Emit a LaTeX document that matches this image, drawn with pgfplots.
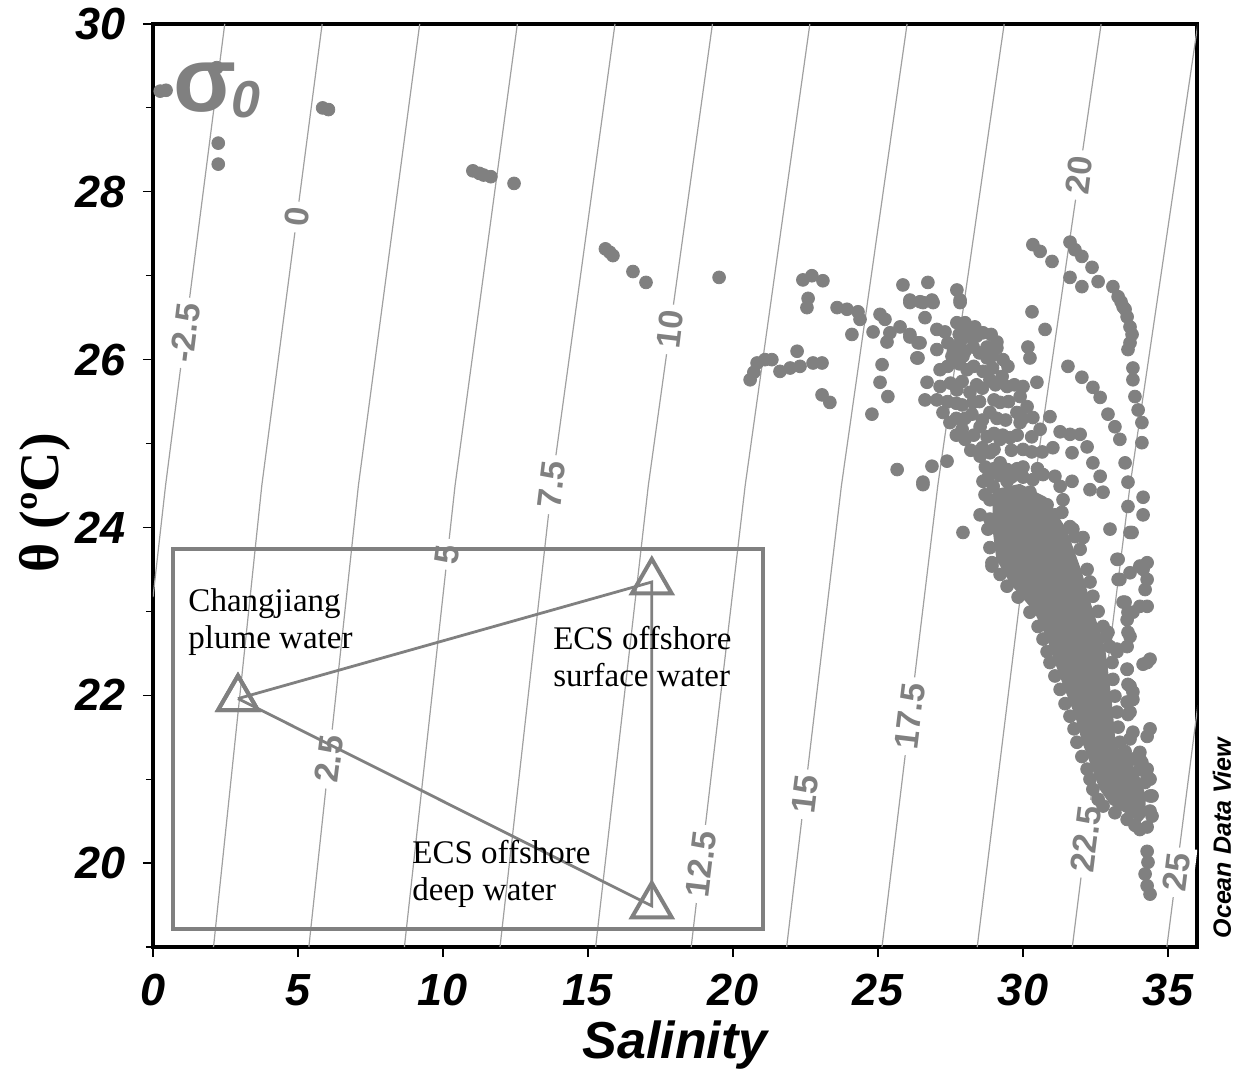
\documentclass[border=0pt]{standalone}
\usepackage{fontspec}
\setmainfont{Liberation Serif}
\setsansfont{Liberation Sans}
\usepackage{pgfplots}
\pgfplotsset{compat=1.18}
\definecolor{dotgray}{HTML}{808080}
\definecolor{linegray}{HTML}{A0A0A0}
\begin{document}
\begin{tikzpicture}
\path[use as bounding box] (-76.5pt,-61.5pt) rectangle (541pt,473.5pt);
\begin{axis}[
  width=522pt, height=461.5pt, scale only axis,
  xmin=0, xmax=36, ymin=19, ymax=30,
  xtick={0,5,...,35}, ytick={20,22,...,30}, minor ytick={19,21,...,29},
  tick pos=left, tick align=outside,
  major tick length=5pt, minor tick length=3.5pt,
  axis line style={line width=2pt},
  tick style={black, line width=0.6pt},
  /pgf/number format/assume math mode=true,
  tick label style={font=\sffamily\bfseries\itshape\fontsize{22.5}{22.5}\selectfont},
  xticklabel style={yshift=-5pt},
  yticklabel style={xshift=-5pt},
  xlabel={Salinity},
  xlabel style={font=\sffamily\bfseries\itshape\fontsize{26}{26}\selectfont, at={(axis description cs:0.5,-0.106)}, anchor=center},
  ylabel={θ (ºC)},
  ylabel style={font=\rmfamily\bfseries\fontsize{28}{28}\selectfont, at={(axis description cs:-0.1034,0.481)}, anchor=center},
]
% isopycnals
\pgfplotsset{iso/.style={linegray, line width=0.6pt, forget plot}}
\addplot[iso] coordinates {(0,23.17)(0.433,24.5)(2.474,30)};
\addplot[iso] coordinates {(2.087,19)(3.752,24.5)(5.833,30)};
\addplot[iso] coordinates {(5.374,19)(7.083,24.5)(9.197,30)};
\addplot[iso] coordinates {(8.669,19)(10.416,24.5)(12.564,30)};
\addplot[iso] coordinates {(11.966,19)(13.751,24.5)(15.93,30)};
\addplot[iso] coordinates {(15.263,19)(17.08,24.5)(19.291,30)};
\addplot[iso] coordinates {(18.558,19)(20.42,24.5)(22.65,30)};
\addplot[iso] coordinates {(21.85,19)(23.739,24.5)(26.002,30)};
\addplot[iso] coordinates {(25.138,19)(27.062,24.5)(29.35,30)};
\addplot[iso] coordinates {(28.421,19)(30.378,24.5)(32.694,30)};
\addplot[iso] coordinates {(31.70,19)(33.69,24.5)(36.03,30)};
\addplot[iso] coordinates {(34.96,19)(37.0,24.5)};
% contour labels
\tikzset{clab/.style={fill=white, text=dotgray, inner sep=3pt, rotate=83, font=\sffamily\bfseries\fontsize{17}{17}\selectfont}}
\node[clab] at (axis cs:1.11,26.32) {-2.5};
\node[clab] at (axis cs:4.96,27.7) {0};
\node[clab] at (axis cs:6.07,21.24) {2.5};
\node[clab] at (axis cs:10.16,23.68) {5};
\node[clab] at (axis cs:13.75,24.51) {7.5};
\node[clab] at (axis cs:17.83,26.36) {10};
\node[clab] at (axis cs:18.89,19.99) {12.5};
\node[clab] at (axis cs:22.48,20.82) {15};
\node[clab] at (axis cs:26.10,21.75) {17.5};
\node[clab] at (axis cs:31.94,28.2) {20};
\node[clab] at (axis cs:32.17,20.29) {22.5};
\node[clab] at (axis cs:35.29,19.89) {25};
% inset box
\addplot[dotgray, line width=2pt, forget plot] coordinates {(0.69,19.21)(21.03,19.21)(21.03,23.74)(0.69,23.74)} -- cycle;
% mixing triangle
\addplot[dotgray, line width=1.4pt, mark=triangle, mark size=11.5pt, mark options={line width=2pt, fill=none}, forget plot]
  coordinates {(2.93,21.96)(17.2,23.35)(17.2,19.49)(2.93,21.96)};
% dense core
\addplot[fill=dotgray, draw=none, forget plot] coordinates {
(28.95,24.45)(28.95,23.98)(29.08,23.62)(29.58,23.32)(30.38,23.0)(30.83,22.67)(31.12,22.37)(31.46,22.05)(31.81,21.74)(32.05,21.43)(32.39,21.12)(32.64,20.88)(33.0,20.70)(33.62,20.58)(34.03,20.48)
(34.21,20.55)(34.24,20.80)(33.97,21.08)(33.62,21.24)(33.20,21.40)(33.10,21.80)(32.97,22.19)(32.83,22.57)(32.60,22.81)(32.30,23.14)(32.02,23.48)(31.50,23.98)(30.80,24.36)(29.90,24.52)} -- cycle;
% scatter
\addplot[only marks, mark=*, mark size=3.2pt, color=dotgray, forget plot] coordinates {
(0.25,29.2)(0.45,29.21)(2.2,29.48)(2.25,28.58)(2.25,28.33)(5.85,29.0)(6.05,28.98)
(11.03,28.25)(11.25,28.22)(11.4,28.2)(11.65,28.18)(12.45,28.1)
(15.6,27.32)(15.75,27.28)(15.86,27.24)(16.55,27.05)(17.0,26.92)(19.52,26.98)
(20.59,25.76)(20.72,25.85)(20.83,25.96)(21.1,26.0)(21.34,26.0)(21.62,25.86)(21.97,25.9)(22.31,25.92)(22.76,25.96)(23.07,25.96)(22.21,26.10)
(22.41,26.95)(22.72,27.0)(23.1,26.94)(22.59,26.73)(22.55,26.62)(23.07,25.58)(23.34,25.49)
(23.59,26.62)(23.93,26.6)(24.31,26.57)(24.38,26.48)(24.1,26.3)(24.83,26.33)(25.07,26.54)(25.24,26.48)(25.31,26.21)(25.76,26.39)(25.86,26.89)(26.1,26.71)(26.45,26.69)(26.72,26.92)(26.86,26.71)(26.62,26.5)(26.1,26.27)(26.38,26.2)(26.38,26.02)(27.72,26.83)(27.83,26.71)
(25.14,25.94)(25.07,25.73)(25.34,25.56)(24.79,25.35)
(25.66,24.69)(26.55,24.51)(26.86,24.73)(27.38,24.79)(28.52,24.15)(27.93,23.94)(28.93,23.54)
(26.10,26.68)(26.55,26.68)(26.9,26.68)(27.83,26.68)(26.1,26.3)(26.45,26.2)(26.34,26.02)(25.41,26.32)
(27.03,26.36)(27.31,26.33)(27.72,26.44)(28.0,26.44)(28.34,26.39)(28.62,26.32)(28.17,26.27)(27.83,26.2)(28.28,26.15)(28.76,26.15)(29.1,26.21)(27.03,26.12)(27.41,26.2)(27.55,26.04)(27.93,26.04)(28.76,26.02)(29.1,26.14)(29.31,26.0)(29.48,25.92)(27.14,25.88)(28.07,25.88)(28.62,25.86)(28.86,25.76)(29.28,25.8)(29.45,25.68)(26.69,25.73)(27.14,25.68)(27.72,25.64)(28.17,25.61)(26.62,25.52)(27.03,25.52)(27.9,25.46)(28.28,25.49)(28.24,25.35)(28.86,25.37)(29.21,25.49)(29.9,25.56)(30.14,25.44)(29.79,25.37)(27.24,25.37)(27.48,25.25)(27.9,25.17)(28.0,25.05)(28.52,25.2)(28.76,25.08)(29.21,25.05)(29.55,25.07)(30.0,24.93)(29.9,25.25)(30.34,25.31)(30.59,25.17)(28.52,24.85)(28.86,24.89)(29.21,24.77)(29.45,24.69)(28.62,24.55)(28.97,24.49)(29.45,24.55)(29.31,24.33)(29.79,24.42)(30.24,24.42)(30.48,24.21)(30.83,24.01)(31.17,23.86)
(27.8,26.3)(28.1,26.32)(28.4,26.28)(28.9,26.3)(27.6,26.1)(28.0,26.1)(28.5,26.08)(28.95,26.05)(27.4,25.92)(27.8,25.95)(28.3,25.92)(28.95,25.9)(27.5,25.72)(27.9,25.74)(28.4,25.7)(28.6,25.66)(29.05,25.7)(29.7,25.7)(30.0,25.68)
(27.4,25.5)(27.7,25.48)(28.5,25.5)(29.0,25.52)(29.5,25.5)(27.7,25.3)(28.0,25.3)(28.6,25.28)(29.1,25.3)(29.4,25.28)(30.0,25.3)
(27.7,25.1)(28.3,25.1)(29.0,25.12)(29.3,25.1)(29.8,25.1)(30.3,25.08)(28.2,24.92)(28.6,24.95)(29.0,24.93)(29.6,24.92)(30.3,24.9)
(28.7,24.72)(29.0,24.7)(29.8,24.7)(30.0,24.72)(30.5,24.7)(28.8,24.6)(29.2,24.62)(29.6,24.6)(30.0,24.6)
(30.76,26.36)(30.31,26.57)(30.17,26.15)(30.24,26.02)(30.48,25.73)
(30.93,25.32)(31.28,25.14)(31.62,25.11)(31.97,25.11)(32.21,24.96)(31.69,24.89)(31.03,24.95)(30.66,24.9)(30.34,24.57)(30.69,24.63)(31.1,24.61)(31.28,24.49)(31.38,24.33)(31.34,24.18)(31.62,24.01)(31.79,23.89)(32.07,23.88)(31.69,24.55)(32.41,24.77)(32.66,24.61)(32.31,24.45)(32.76,24.42)(33.0,23.98)(26.55,24.54)
(31.55,25.92)(32.03,25.79)(32.41,25.67)(32.66,25.55)(32.93,25.35)(33.17,25.2)(33.34,25.05)(33.52,24.77)(33.62,24.54)(33.62,24.25)(33.69,23.94)(34.14,24.36)(34.14,24.15)
(33.79,25.9)(33.79,25.76)(33.86,25.56)(33.97,25.4)(34.1,25.25)(34.1,25.01)
(30.34,27.37)(30.59,27.29)(31.0,27.17)(31.62,27.4)(31.79,27.31)(32.03,27.23)(32.38,27.1)(32.59,26.93)(31.62,26.98)(32.03,26.87)(33.1,26.87)(33.28,26.75)(33.45,26.63)(33.59,26.51)(33.69,26.39)(33.76,26.3)(33.69,26.2)(33.62,26.12)(33.52,26.6)(33.38,26.69)
(33.76,23.94)(33.28,23.62)(33.28,23.38)(33.52,23.11)(33.62,22.99)(33.62,22.75)(33.24,22.52)(34.14,23.5)(34.21,23.26)(34.28,23.06)(34.03,23.06)(33.79,22.99)(34.28,23.58)(34.28,23.38)(32.93,22.75)(33.59,22.31)(33.62,22.13)(33.79,22.04)(34.38,22.43)(34.14,22.37)(33.62,21.77)(33.69,21.48)(34.38,21.6)(34.28,21.51)(34.03,21.32)(34.28,21.12)
(33.59,21.92)(33.69,21.8)(33.79,21.56)(34.03,21.24)(34.38,21.0)(34.45,20.8)(34.45,20.56)
(33.24,23.62)(33.34,23.38)(33.69,23.46)(34.03,23.54)(33.45,23.11)(33.59,22.9)(33.69,22.7)(33.24,22.55)(33.59,22.58)(34.28,22.39)(33.59,22.31)(33.69,22.11)(33.79,21.95)(34.1,21.2)(34.28,21.04)
(34.28,20.14)(34.31,20.01)(34.21,19.87)(34.28,19.73)(34.38,19.63)
(28.86,24.33)(28.86,24.1)(29.21,24.15)(28.69,24.39)(30.83,24.27)(31.1,24.15)
(28.79,23.98)(28.86,23.76)(28.93,23.58)(29.21,23.44)(29.45,23.3)(29.83,23.17)(30.24,22.99)(30.52,22.82)(30.69,22.67)(30.83,22.52)(30.93,22.39)(31.1,22.23)(31.28,22.07)(31.45,21.9)(31.62,21.75)(31.76,21.6)(31.86,21.44)(32.03,21.27)(32.21,21.12)(32.31,21.0)(32.41,20.88)(32.59,20.76)(32.76,20.68)(33.17,20.6)(33.59,20.52)(33.86,20.45)(34.03,20.4)
(34.28,20.43)(34.38,20.62)(34.38,20.8)(34.21,20.96)(34.03,21.12)(33.79,21.24)(33.52,21.33)(33.34,21.44)(33.28,21.62)(33.24,21.8)(33.17,21.99)(33.1,22.19)(33.07,22.39)(33.0,22.58)(32.86,22.7)(32.76,22.82)(32.59,23.0)(32.41,23.18)(32.31,23.35)(32.21,23.5)(31.97,23.74)(31.72,23.98)
};
% sigma label
\node[text=dotgray, font=\sffamily\bfseries\fontsize{46}{46}\selectfont] at (axis cs:1.79,29.24) {σ};
\node[text=dotgray, font=\sffamily\bfseries\itshape\fontsize{26}{26}\selectfont] at (axis cs:3.2,29.1) {0};
% end-member labels
\node[anchor=west, align=left, font=\rmfamily\fontsize{16.5}{18.5}\selectfont, inner sep=0pt] at (axis cs:1.21,22.87) {Changjiang\\plume water};
\node[anchor=west, align=left, font=\rmfamily\fontsize{16.5}{18.5}\selectfont, inner sep=0pt] at (axis cs:13.79,22.46) {ECS offshore\\surface water};
\node[anchor=west, align=left, font=\rmfamily\fontsize{16.5}{18.5}\selectfont, inner sep=0pt] at (axis cs:8.93,19.87) {ECS offshore\\deep water};
\end{axis}
\node[rotate=90, font=\sffamily\bfseries\itshape\fontsize{12.5}{12.5}\selectfont] at (534.5pt,54.5pt) {Ocean Data View};
\end{tikzpicture}
\end{document}
